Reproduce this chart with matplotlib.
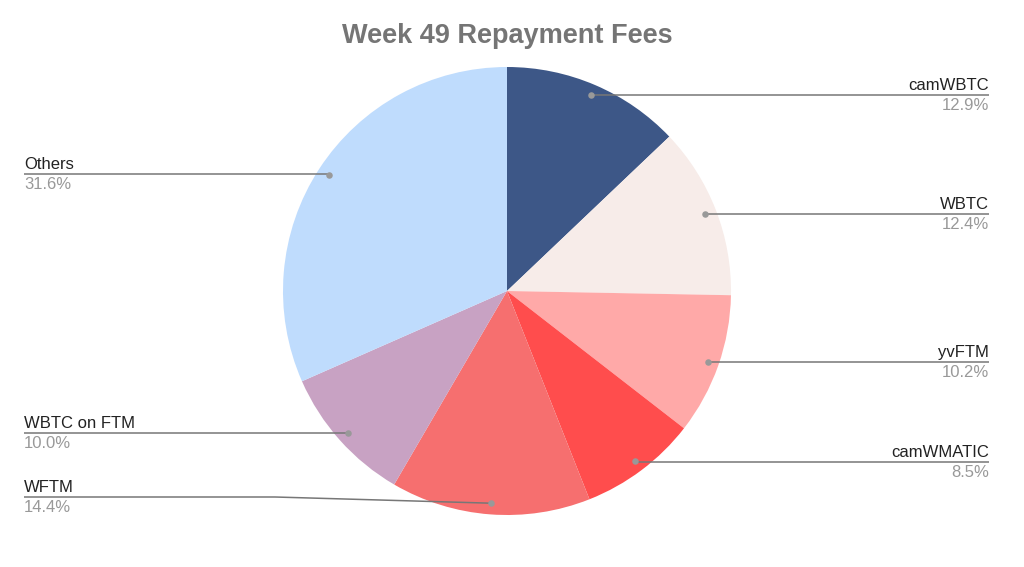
"""Week 49 repayment fees, pie with outside leader-line labels."""

import matplotlib

matplotlib.use("Agg")
import matplotlib.pyplot as plt
import numpy as np

labels = ["camWBTC", "WBTC", "yvFTM", "camWMATIC", "WFTM", "WBTC on FTM", "Others"]
shares = [12.9, 12.4, 10.2, 8.5, 14.4, 10.0, 31.6]

colors = ["#3d5787", "#f7ece9", "#ffa9a8", "#ff4d4d", "#f66f6f", "#c8a2c3", "#bfdcfd"]
# label layout (pixel coords): side, line y, elbow x (None = straight line)
label_side = ["right", "right", "right", "right", "left", "left", "left"]
label_y = [95, 214, 362, 462, 497, 433, 174]
label_elbow = [None, None, None, None, 275, None, None]

W, H = 1024, 567
CX, CY, R = 507, 291, 224
TEXT_INK = "#222222"
PCT_INK = "#999999"
LINE_INK = "#777777"

plt.rcParams["font.family"] = ["Liberation Sans", "DejaVu Sans"]

fig = plt.figure(figsize=(W / 100, H / 100), dpi=100)
ax = fig.add_axes([0, 0, 1, 1])

# y axis points down, so counterclock in data space reads clockwise on screen
ax.pie(shares, colors=colors, startangle=-90, counterclock=True,
       center=(CX, CY), radius=R, wedgeprops={"linewidth": 0})
ax.set_xlim(0, W)
ax.set_ylim(H, 0)
ax.set_aspect("equal")
ax.axis("off")

total = sum(shares)
cum = np.cumsum([0] + shares[:-1])
for i, name in enumerate(labels):
    mid = (cum[i] + shares[i] / 2) / total
    ang = np.deg2rad(-90 + 360 * mid)
    dx = CX + 0.95 * R * np.cos(ang)
    dy = CY + 0.95 * R * np.sin(ang)
    ly = label_y[i]
    if label_side[i] == "right":
        tx, ha = 989, "right"
    else:
        tx, ha = 24, "left"
    if label_elbow[i] is None:
        xs, ys = [dx, tx], [ly, ly]
    else:
        xs, ys = [dx, label_elbow[i], tx], [dy, ly, ly]
    ax.plot(xs, ys, color=LINE_INK, linewidth=1.1, solid_capstyle="butt", zorder=3)
    ax.scatter([dx], [dy], s=22, color="#999999", zorder=4, linewidths=0)
    ax.text(tx, ly - 5, name, ha=ha, va="baseline", fontsize=12, color=TEXT_INK)
    ax.text(tx, ly + 3, f"{shares[i]:.1f}%", ha=ha, va="top", fontsize=12,
            color=PCT_INK)

ax.text(507, 36, "Week 49 Repayment Fees", ha="center", va="center",
        fontsize=19.5, fontweight="bold", color="#757575")

fig.savefig("out.png", dpi=100)
plt.close(fig)
